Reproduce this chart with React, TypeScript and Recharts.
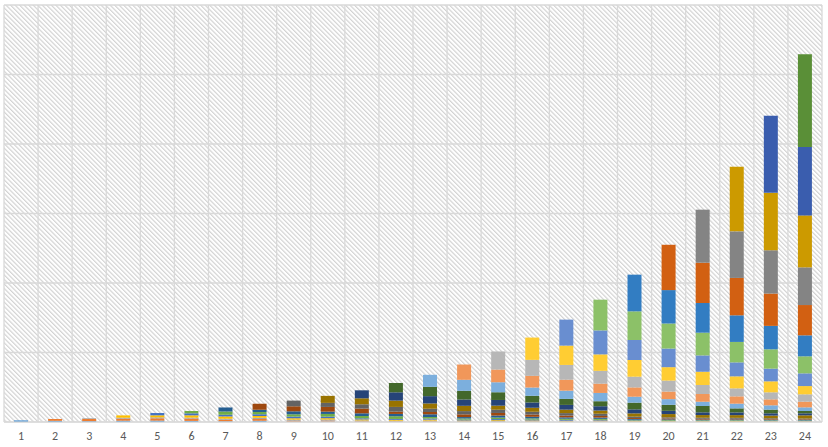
import React from "react";
import { BarChart, Bar, XAxis, YAxis, CartesianGrid } from "recharts";

// categories on the x axis
const categories = [
  "1", "2", "3", "4", "5", "6", "7", "8", "9", "10", "11", "12",
  "13", "14", "15", "16", "17", "18", "19", "20", "21", "22", "23", "24",
];

// each series starts at its own bar (series k begins at bar k)
const s1 = [0.24, 0.17, 0.12, 0.19, 0.2, 0.16, 0.1, 0.19, 0.06, 0.07, 0.04, 0.04, 0.04, 0.01, 0.03, 0.01, 0.01, 0.02, 0.02, 0.01, 0.01, 0.02, 0.02, 0.02];
const s2 = [0.26, 0.32, 0.29, 0.33, 0.33, 0.23, 0.24, 0.12, 0.13, 0.07, 0.06, 0.07, 0.04, 0.04, 0.04, 0.03, 0.04, 0.04, 0.03, 0.03, 0.04, 0.03, 0.03];
const s3 = [0.1, 0.14, 0.14, 0.14, 0.14, 0.19, 0.16, 0.16, 0.12, 0.09, 0.1, 0.07, 0.07, 0.07, 0.06, 0.06, 0.04, 0.04, 0.04, 0.04, 0.04, 0.03];
const s4 = [0.33, 0.29, 0.33, 0.33, 0.24, 0.2, 0.19, 0.14, 0.12, 0.13, 0.1, 0.12, 0.1, 0.09, 0.09, 0.06, 0.05, 0.05, 0.05, 0.04, 0.04];
const s5 = [0.33, 0.29, 0.24, 0.24, 0.24, 0.22, 0.16, 0.13, 0.16, 0.13, 0.16, 0.13, 0.12, 0.1, 0.07, 0.06, 0.06, 0.06, 0.06, 0.05];
const s6 = [0.33, 0.47, 0.33, 0.33, 0.39, 0.33, 0.39, 0.22, 0.16, 0.22, 0.17, 0.16, 0.14, 0.09, 0.09, 0.07, 0.07, 0.06, 0.06];
const s7 = [0.58, 0.33, 0.43, 0.33, 0.39, 0.33, 0.39, 0.2, 0.29, 0.23, 0.2, 0.19, 0.12, 0.1, 0.09, 0.09, 0.07, 0.07];
const s8 = [0.86, 0.72, 0.68, 0.68, 0.33, 0.33, 0.39, 0.37, 0.32, 0.26, 0.23, 0.14, 0.13, 0.12, 0.1, 0.09, 0.09];
const s9 = [0.82, 0.58, 0.62, 0.68, 0.47, 0.47, 0.47, 0.4, 0.35, 0.32, 0.19, 0.16, 0.14, 0.13, 0.12, 0.1];
const s10 = [1.01, 0.86, 0.91, 0.76, 0.76, 0.58, 0.58, 0.5, 0.46, 0.47, 0.47, 0.39, 0.39, 0.39, 0.47];
const s11 = [1.15, 1.19, 1.05, 0.91, 0.82, 0.76, 0.68, 0.62, 0.58, 0.47, 0.39, 0.39, 0.33, 0.29];
const s12 = [1.34, 1.34, 1.25, 1.11, 0.96, 0.86, 0.72, 0.96, 0.86, 0.91, 0.58, 0.53, 0.33];
const s13 = [1.73, 1.58, 1.44, 1.19, 1.19, 1.19, 0.86, 0.82, 0.62, 0.68, 0.62, 0.53];
const s14 = [2.2, 1.83, 1.68, 1.58, 1.34, 1.34, 1.09, 1.11, 1.05, 0.86, 0.82];
const s15 = [2.59, 2.3, 2.12, 1.84, 1.54, 1.58, 1.29, 1.15, 1.01, 1.05];
const s16 = [3.21, 2.78, 2.37, 2.4, 1.93, 1.91, 1.73, 1.58, 1.19];
const s17 = [3.74, 3.45, 2.88, 2.68, 2.35, 2.01, 1.83, 1.83];
const s18 = [4.42, 4.12, 3.6, 3.27, 2.94, 2.78, 2.45];
const s19 = [5.28, 4.81, 4.27, 3.83, 3.37, 3.02];
const s20 = [6.52, 5.8, 5.38, 4.65, 4.36];
const s21 = [7.63, 6.7, 6.23, 5.42];
const s22 = [9.31, 8.26, 7.48];
const s23 = [11.08, 9.83];
const s24 = [13.34];

const series = [
  s1, s2, s3, s4, s5, s6, s7, s8, s9, s10, s11, s12,
  s13, s14, s15, s16, s17, s18, s19, s20, s21, s22, s23, s24,
];

const colors = [
  "#5B9BD5", "#ED7D31", "#A5A5A5", "#FFC000", "#4472C4", "#70AD47",
  "#255E91", "#9E480E", "#636363", "#997300", "#264478", "#43682B",
  "#7CAFDD", "#F1975A", "#B7B7B7", "#FFCD33", "#698ED0", "#8CC168",
  "#327DC2", "#D26012", "#848484", "#CC9A00", "#3A5DAE", "#5A8F37",
];

const yTicks = [0, 10, 20, 30, 40, 50, 60];

const data = categories.map((name, i) => {
  const row: Record<string, string | number> = { name };
  series.forEach((vals, k) => {
    if (i >= k) row[`s${k + 1}`] = vals[i - k];
  });
  return row;
});

const gridX = ({ offset }: any) =>
  categories.map((_, i) => offset.left + (i * offset.width) / categories.length)
    .concat(offset.left + offset.width);

const gridY = ({ offset }: any) =>
  yTicks.map((_, i) => offset.top + (i * offset.height) / (yTicks.length - 1));

export default function App() {
  return (
    <div style={{ position: "absolute", left: 0, top: 0, background: "#fff" }}>
      <BarChart
        width={828}
        height={447}
        data={data}
        margin={{ top: 5, right: 6, bottom: 0, left: 4 }}
        barSize={14}
      >
        <defs>
          <pattern
            id="hatch"
            width="3.2"
            height="3.2"
            patternUnits="userSpaceOnUse"
            patternTransform="rotate(-45)"
          >
            <line x1="0.6" y1="0" x2="0.6" y2="3.2" stroke="#CFCFCF" strokeWidth="1.1" />
          </pattern>
        </defs>
        <CartesianGrid
          stroke="#D9D9D9"
          strokeWidth={1.3}
          fill="url(#hatch)"
          fillOpacity={1}
          verticalCoordinatesGenerator={gridX}
          horizontalCoordinatesGenerator={gridY}
        />
        <XAxis
          dataKey="name"
          tickLine={false}
          axisLine={{ stroke: "#D9D9D9" }}
          height={25}
          interval={0}
          tickMargin={3}
          tick={{ fill: "#595959", fontSize: 12, fontFamily: "Carlito, 'Liberation Sans', Arial, sans-serif" }}
        />
        <YAxis hide domain={[0, 60]} ticks={yTicks} />
        {series.map((_, k) => (
          <Bar
            key={k}
            dataKey={`s${k + 1}`}
            stackId="a"
            fill={colors[k]}
            isAnimationActive={false}
          />
        ))}
      </BarChart>
    </div>
  );
}
